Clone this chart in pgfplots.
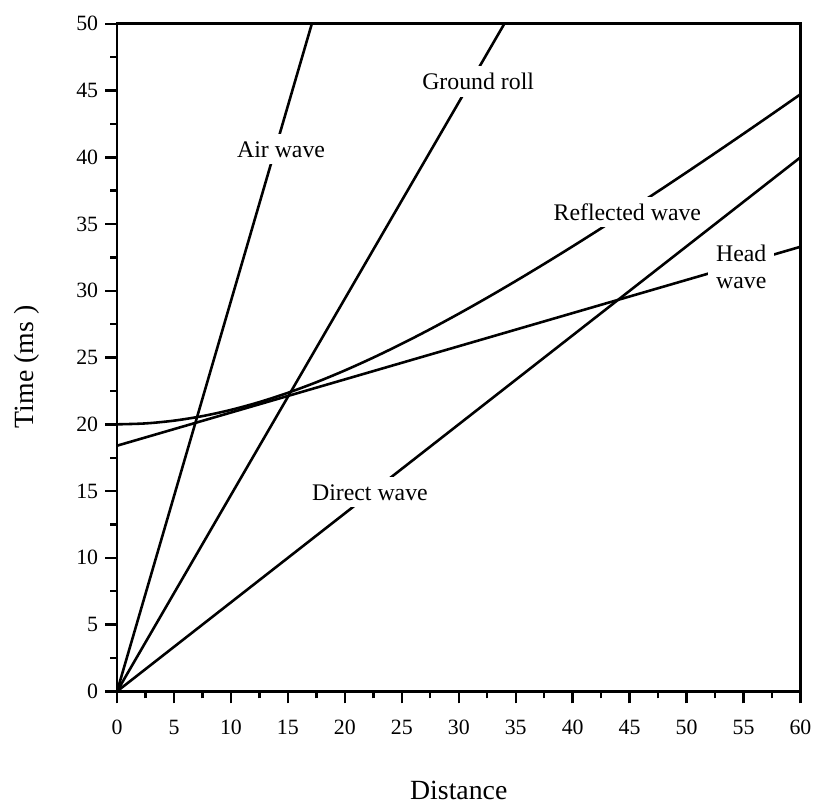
\documentclass[border=0pt]{standalone}
\usepackage{fontspec}
\setmainfont{Liberation Serif}
\usepackage{pgfplots}
\pgfplotsset{compat=1.18}
\usetikzlibrary{calc}

\begin{document}
\begin{tikzpicture}
\begin{axis}[
    scale only axis,
    width=344.5pt, height=336.5pt,
    xmin=0, xmax=60, ymin=0, ymax=50,
    xtick={0,5,...,60}, ytick={0,5,...,50},
    minor tick num=1,
    tick pos=left, tick align=outside,
    major tick length=6pt, minor tick length=3.5pt,
    every tick/.style={black, line width=1.2pt},
    axis line style={line width=1.4pt},
    /pgf/number format/assume math mode=true,
    tick label style={font=\fontsize{11}{13}\selectfont},
    xticklabel style={yshift=-5pt},
    xlabel={Distance}, ylabel={Time (ms )},
    label style={font=\fontsize{14}{16}\selectfont},
    xlabel style={at={(axis description cs:0.5,-0.149)}, anchor=center},
    ylabel style={at={(axis description cs:-0.132,0.486)}, anchor=center},
    every axis plot post/.append style={black, mark=none, line width=1.3pt},
    clip=true,
]

% air wave
\addplot coordinates {(0,0) (17.1,50)};
% ground roll
\addplot coordinates {(0,0) (34,50)};
% direct wave
\addplot coordinates {(0,0) (60,40)};
% head wave
\addplot coordinates {(0,18.4) (60,33.3)};
% reflected wave
\addplot+[smooth] coordinates {
    (0,20.000) (2.5,20.069) (5,20.276) (7.5,20.616) (10,21.082)
    (12.5,21.667) (15,22.361) (17.5,23.154) (20,24.037) (22.5,25.000)
    (25,26.034) (27.5,27.131) (30,28.284) (32.5,29.486) (35,30.732)
    (37.5,32.016) (40,33.333) (42.5,34.681) (45,36.056) (47.5,37.454)
    (50,38.873) (52.5,40.311) (55,41.766) (57.5,43.237) (60,44.721)
};

\begin{scope}[every node/.style={fill=white, inner sep=3.5pt, font=\fontsize{12}{14}\selectfont}]
\node at (axis cs:14.4,40.6) {Air wave};
\node at (axis cs:31.7,45.7) {Ground roll};
\node at (axis cs:44.8,35.9) {Reflected wave};
\node[align=center, inner sep=4pt] at (axis cs:54.8,31.8) {Head\\wave};
\node at (axis cs:22.2,14.9) {Direct wave};
\end{scope}

% redraw frame over the label boxes
\draw[line width=1.4pt] (rel axis cs:0,0) rectangle (rel axis cs:1,1);
\end{axis}
\path ($(current axis.south west)+(-59pt,-57pt)$) rectangle ($(current axis.north east)+(5.5pt,12pt)$);
\end{tikzpicture}
\end{document}
